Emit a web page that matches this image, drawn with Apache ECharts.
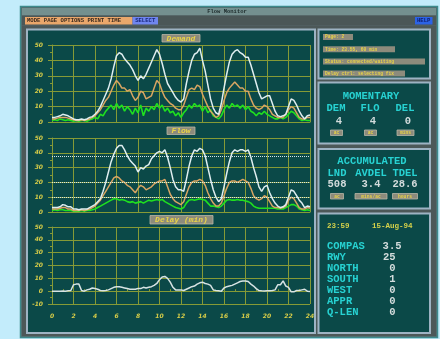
<!DOCTYPE html>
<html>
<head>
<meta charset="utf-8">
<script src="https://cdn.jsdelivr.net/npm/echarts@6/dist/echarts.min.js"></script>
<style>
html,body{margin:0;padding:0;background:#c3ecfb;}
#main{width:440px;height:339px;}
</style>
</head>
<body>
<div id="main"></div>
<script>
// Samples every quarter hour, 00:00 .. 24:00
const sampleStep = 0.25;
const hourTicks = [0, 2, 4, 6, 8, 10, 12, 14, 16, 18, 20, 22, 24];

// Demand (ac/h)
const demandTotal = [3,3,3.5,4,5,4.5,4,3,2,1.5,1.5,2,1.5,2,3,3.5,5,7,10,14,18,22,28,36,43,45,44,41,39,37,34,30,27,30,28,31,35,39,43,47,44,38,31,25,22,19,16,14,13,15,25,33,40,44,45,48,40,33,24,15,9,6,5,12,22,31,39,44,46,47,45,44,42,42,37,31,25,19,15,16,17,17,12,7,4,3.5,4,5,10,15,14,11,7,4,2,4,4.5];
const demandArr = [2,2,2.5,3,3,3,2.5,2,1.5,1,1,1.5,1,1.5,2,3,4,6,8,11,14,16,20,24,27,25,22,22,20,21,17,14,16,20,19,15,16,17,22,27,25,20,16,14,12,11,9,8,8,11,16,21,22,21,24,23,18,14,10,7,5,3,4,8,14,19,22,24,26,24,22,22,20,20,15,11,9,8,9,11,10,8,5,4,3,3,3,5,8,10,9,6,3,2,2,3,3];
const demandDep = [1,1.5,1,2,1.5,1,1.5,1,0.5,1,0.5,1,1,0.5,1.5,2,3,2,5,4,7,9,11,8,12,9,11,7,10,8,5,9,6,11,4,9,7,10,8,12,9,11,7,9,6,7,4,6,3,6,8,11,9,12,10,11,7,10,6,8,4,3,2,4,8,11,9,12,10,11,9,11,8,10,7,6,4,6,5,7,5,4,3,2,2,3,2,3,5,7,6,4,2,1,1.5,1,1];

// Flow (ac/h)
const flowTotal = [3,3,3,3.5,5,4.5,3.5,3.5,2,2,1.5,2,2,2,3,4,5,7,9,14,20,27,34,39,43,45,45,42,38,35,33,31,27,30,29,31,32,36,38,40,41,40,42,37,30,22,17,15,15,14,22,31,38,42,41,43,42,38,30,22,15,10,7,9,17,26,34,40,42,41,42,42,41,42,37,30,24,17,14,17,18,13,9,6,4,3,3.5,5,10,15,14,11,8,6,3,4,3.5];
const flowArr = [2,2,2,2.5,3,3,2,2,1,1,1,1.5,1,1.5,2,3,4,6,8,11,14,17,20,23,24,23,21,20,18,17,15,13,16,18,17,15,16,17,19,20,21,21,22,17,12,9,7,6,5,7,12,17,20,21,21,22,21,18,13,9,6,4,4,6,11,16,20,21,21,20,21,22,21,20,16,11,9,8,9,11,10,7,4,3,3,2.5,3,4,8,10,9,6,3,2,2,3,2.5];
const flowDep = [1,1.5,1,1.5,1.5,1,1,1,0.5,0.5,0.5,1,0.5,1,1,1.5,2,3,4,5,6,7,8,9,9,8,8.5,8,7,6.5,7,6,6.5,7,6,7,8,7.5,8,8.5,8,8.5,7,6,5,4,3,2.5,2,3,6,8,8.5,8,8.5,9,8.5,8,6,4,4,3.5,3,4,6,8,8.5,8,8,8.5,8,8,7.5,7,6,4,3,2.5,2.5,2.5,2.5,2.5,2.5,2.5,2,2,2,3,4,5,5,4,2,1.5,1,1.5,1];
const flowCapacity = [37.5, 20, 10];

// Delay (min)
const delayMin = [0,0,0,0,0.2,0,0.3,0.5,5,5.5,5.5,0.5,0,1,1.5,2.5,2,1.5,0.5,0.3,0.5,1,2,3,3.5,3.5,3,2.5,2,1.5,1.5,1.5,2,2,3,2.5,3,3.5,4.5,6,9,11,11.5,10,7,3,1,1,1,0.5,1.5,2.5,3.5,4,5.5,6.5,7,6,5.5,4.5,1,0.5,0.3,0,2.5,3.5,4,4.5,5.5,6.5,7.5,8,8,7.5,5.5,4,2,0.5,0.3,0.2,0.3,0.3,0.5,1,5,5,8,4,3,-0.5,-0.5,0.5,0.5,1,1.5,0,-0.3];

// Side panel readouts
const momentaryHeads = ['DEM', 'FLO', 'DEL'];
const momentaryValues = ['4', '4', '0'];
const momentaryUnits = ['ac', 'ac', 'mins'];
const accumHeads = ['LND', 'AVDEL', 'TDEL'];
const accumValues = ['508', '3.4', '28.6'];
const accumUnits = ['ac', 'mins/ac', 'hours'];
const statusNames = ['COMPAS', 'RWY', 'NORTH', 'SOUTH', 'WEST', 'APPR', 'Q-LEN'];
const statusValues = ['3.5', '25', '0', '1', '0', '0', '0'];
const infoLines = ['Page: 2', 'Time: 23.55, 60 min', 'Status: connected/waiting', 'Delay ctrl: selecting fix'];

const pairs = arr => arr.map((v, i) => [i * sampleStep, v]);

const gridColor = '#869a36';
const labelColor = '#d6cc48';
const panelFill = '#0b4948';
const panelEdge = '#9db3c3';
const mono = '"Liberation Mono","DejaVu Sans Mono",monospace';
const cyan = '#27d2d2';

const grids = [
  { left: 52, top: 45, width: 258, height: 77 },
  { left: 52, top: 138, width: 258, height: 74 },
  { left: 52, top: 227, width: 258, height: 77 }
];

function xAxisFor(gi, showLabels) {
  return {
    type: 'value', gridIndex: gi, min: 0, max: 24, interval: 2,
    axisLine: { show: true, lineStyle: { color: gridColor } },
    axisTick: { show: showLabels, length: 3, inside: true, lineStyle: { color: gridColor } },
    minorTick: { show: showLabels, splitNumber: 2, length: 2, lineStyle: { color: gridColor } },
    splitLine: { show: true, lineStyle: { color: gridColor, width: 1 } },
    axisLabel: {
      show: showLabels, color: labelColor, fontSize: 6, fontStyle: 'italic',
      fontWeight: 'bold', fontFamily: 'DejaVu Sans', margin: 9,
      customValues: hourTicks
    }
  };
}
function yAxisFor(gi, min, max) {
  return {
    type: 'value', gridIndex: gi, min: min, max: max, interval: 10,
    axisLine: { show: true, lineStyle: { color: gridColor } },
    axisTick: { show: true, length: 4, lineStyle: { color: gridColor } },
    minorTick: { show: true, splitNumber: 2, length: 2, lineStyle: { color: gridColor } },
    splitLine: { show: true, lineStyle: { color: gridColor, width: 1 } },
    axisLabel: {
      color: labelColor, fontSize: 6, fontStyle: 'italic', fontWeight: 'bold',
      fontFamily: 'DejaVu Sans', margin: 9
    }
  };
}
function lineSeries(gi, data, color, width) {
  return {
    type: 'line', xAxisIndex: gi, yAxisIndex: gi, data: pairs(data),
    showSymbol: false, symbol: 'none', silent: true,
    lineStyle: { color: color, width: width || 1.5 }, z: 3
  };
}

// --- window chrome and panels ---
const g = [];
function rect(x, y, w, h, fill, stroke, lw, z) {
  g.push({ type: 'rect', shape: { x: x, y: y, width: w, height: h },
    style: { fill: fill, stroke: stroke || null, lineWidth: lw || 0 }, z: z == null ? -10 : z, silent: true });
}
function text(t, x, y, color, size, opts) {
  opts = opts || {};
  g.push({ type: 'text', x: x, y: y, z: 20, silent: true,
    style: { text: t, fill: color, font: (opts.style || '') + ' ' + (opts.weight || 'bold') + ' ' + size + 'px ' + (opts.family || mono),
      align: opts.align || 'left', verticalAlign: 'middle' } });
}
function tag(t, x, y, w, h, size, opts) {
  rect(x, y, w, h, '#8d8b7c', '#b9b6a4', 0.8, 15);
  text(t, x + w / 2, y + h / 2 + 0.3, '#e9d447', size, Object.assign({ align: 'center' }, opts || {}));
}

// window body
rect(20.5, 6.5, 417, 331, '#56676a', '#3d8a8c', 1.5);
rect(22, 8, 414, 7.5, '#74908f');
text('Flow Monitor', 227, 11.8, '#1d2b2b', 5.5, { align: 'center' });
rect(22, 15.5, 414, 10, '#4b5757');
rect(25, 17, 107.5, 7.5, '#eaa76b', null, 0, -9);
text('MODE PAGE OPTIONS PRINT TIME', 27, 20.9, '#3b2a1e', 5.6);
rect(132.5, 17, 25.5, 7.5, '#7086f0', null, 0, -9);
text('SELECT', 145.2, 20.9, '#17257a', 5.6, { align: 'center' });
rect(415, 17, 17.5, 7.5, '#2c63e6', null, 0, -9);
text('HELP', 423.7, 20.9, '#0e1c6a', 5.6, { align: 'center' });
rect(22, 26, 414, 310, '#4c5858');

// plot panel
rect(27, 29.5, 288, 303.5, panelFill, panelEdge, 2, -8);
tag('Demand', 162, 34.5, 38, 7.5, 8, { style: 'italic' });
tag('Flow', 167, 127, 28, 7.5, 8, { style: 'italic' });
tag('Delay (min)', 150, 215.5, 63, 8.5, 8, { style: 'italic' });

// side panels
rect(318.5, 29.5, 111.5, 49, panelFill, panelEdge, 2, -8);
rect(318.5, 82.5, 111.5, 61, panelFill, panelEdge, 2, -8);
rect(318.5, 149, 111.5, 59.5, panelFill, panelEdge, 2, -8);
rect(318.5, 213.5, 111.5, 119.5, panelFill, panelEdge, 2, -8);

const infoWidths = [30, 72, 102, 82];
infoLines.forEach((t, i) => {
  rect(323, 34 + i * 12.2, infoWidths[i], 6, '#8d8b7c', null, 0, 15);
  text(t, 325, 37.2 + i * 12.2, '#e9d447', 4.6);
});

text('MOMENTARY', 371, 96, cyan, 10.5, { align: 'center' });
const momX = [336, 370, 405];
momentaryHeads.forEach((h, i) => text(h, momX[i], 108.5, cyan, 10.5, { align: 'center' }));
momentaryValues.forEach((v, i) => text(v, momX[i] + 3, 121, '#d3dcdc', 10.5, { align: 'center' }));
const momUnitW = [12, 12, 17];
momentaryUnits.forEach((u, i) => tag(u, momX[i] + 0.5 - momUnitW[i] / 2, 130, momUnitW[i], 5.5, 4.6));

text('ACCUMULATED', 372, 161, cyan, 10.5, { align: 'center' });
const accX = [337, 371, 405];
accumHeads.forEach((h, i) => text(h, accX[i], 173, cyan, 10.5, { align: 'center' }));
accumValues.forEach((v, i) => text(v, accX[i], 184.5, '#d3dcdc', 10.5, { align: 'center' }));
const accUnitW = [13, 32, 25];
accumUnits.forEach((u, i) => tag(u, accX[i] - accUnitW[i] / 2, 193.5, accUnitW[i], 5.5, 4.6));

text('23:59', 327, 226, '#d6d24a', 7.5);
text('15-Aug-94', 372, 226, '#d6d24a', 7.5);
statusNames.forEach((n, i) => {
  const v = statusValues[i];
  text(n, 327, 246.5 + i * 11, cyan, 10.5);
  text(v, v.indexOf('.') >= 0 ? 401.5 : 395.5, 246.5 + i * 11, '#d3dcdc', 10.5, { align: 'right' });
});

const option = {
  animation: false,
  backgroundColor: '#c3ecfb',
  graphic: { elements: g },
  grid: grids,
  xAxis: [xAxisFor(0, false), xAxisFor(1, false), xAxisFor(2, true)],
  yAxis: [yAxisFor(0, 0, 50), yAxisFor(1, 0, 50), yAxisFor(2, -10, 50)],
  series: [
    lineSeries(0, demandDep, '#1fe01f', 1.6),
    lineSeries(0, demandArr, '#d9a563', 1.5),
    lineSeries(0, demandTotal, '#dfeef0', 1.5),
    Object.assign(lineSeries(1, flowDep, '#1fe01f', 1.6), {
      markLine: {
        silent: true, symbol: 'none', label: { show: false },
        lineStyle: { color: '#d6e6e6', type: 'dotted', width: 1 },
        data: flowCapacity.map(v => ({ yAxis: v }))
      }
    }),
    lineSeries(1, flowArr, '#d9a563', 1.5),
    lineSeries(1, flowTotal, '#dfeef0', 1.5),
    lineSeries(2, delayMin, '#d7e3e3', 1.5)
  ]
};

const chart = echarts.init(document.getElementById('main'), null, { renderer: 'canvas' });
chart.setOption(option);
</script>
</body>
</html>
